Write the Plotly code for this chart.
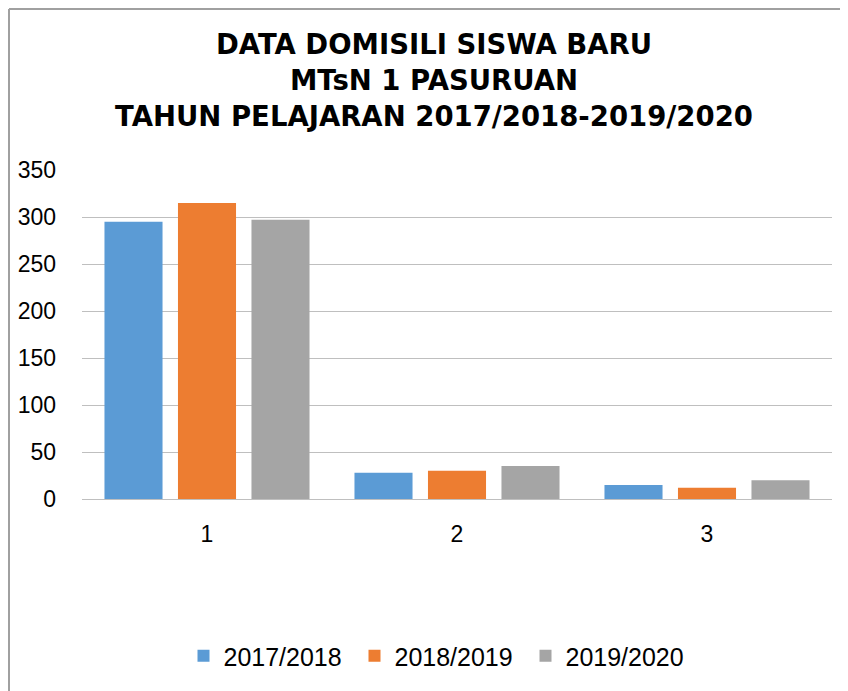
import plotly.graph_objects as go

categories = ["1", "2", "3"]
series_names = ["2017/2018", "2018/2019", "2019/2020"]
values_2017 = [295, 28, 15]
values_2018 = [315, 30, 12]
values_2019 = [297, 35, 20]
colors = ["#5B9BD5", "#ED7D31", "#A5A5A5"]
y_ticks = [0, 50, 100, 150, 200, 250, 300, 350]

# the page body adds an 8px margin, so the figure is offset by 8px
W, H = 840, 683
L, R, T, B = 74, 16, 162, 192
pw, ph = W - L - R, H - T - B

def px(x):
    return (x - L) / pw

def py(y):
    return (H - B - y) / ph

fig = go.Figure()
for name, vals, c in zip(series_names, [values_2017, values_2018, values_2019], colors):
    fig.add_trace(go.Bar(x=categories, y=vals, name=name, marker=dict(color=c, line=dict(width=0))))

fig.update_layout(
    width=W, height=H,
    margin=dict(l=L, r=R, t=T, b=B, autoexpand=False),
    paper_bgcolor="white", plot_bgcolor="white",
    barmode="group", bargap=0.118, bargroupgap=0.21,
    font=dict(family="Liberation Sans, Arial, sans-serif", color="#000000"),
    title=dict(
        text="DATA DOMISILI SISWA BARU<br>MTsN 1 PASURUAN<br>TAHUN PELAJARAN 2017/2018-2019/2020",
        font=dict(family="DejaVu Sans", size=27.5, color="#000000", weight="bold"),
        x=426 / W, xanchor="center", xref="container",
        y=1 - 46 / H, yanchor="top", yref="container",
    ),
    xaxis=dict(
        showgrid=False, showline=True, linecolor="#BFBFBF", linewidth=1,
        tickfont=dict(size=23), ticks="", ticklabelstandoff=14,
    ),
    yaxis=dict(
        range=[0, 350], tickvals=y_ticks, showgrid=True, gridcolor="#BFBFBF", gridwidth=1,
        zeroline=False, showline=False, tickfont=dict(size=23), ticks="", ticklabelstandoff=25,
    ),
    legend=dict(
        orientation="h", x=px(432), xanchor="center",
        yref="container", y=1 - 648 / H, yanchor="middle",
        font=dict(size=25), itemsizing="constant", traceorder="normal",
        entrywidth=126, entrywidthmode="pixels",
    ),
    shapes=[
        dict(type="line", xref="paper", yref="paper", x0=px(1), x1=px(1), y0=py(1), y1=py(H),
             line=dict(color="#A0A0A0", width=2)),
        dict(type="line", xref="paper", yref="paper", x0=px(1), x1=px(W), y0=py(1), y1=py(1),
             line=dict(color="#A0A0A0", width=2)),
    ],
)

fig.write_html("out.html")
